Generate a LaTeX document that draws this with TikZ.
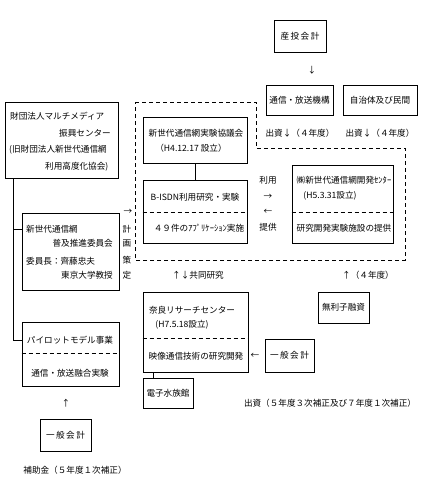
\documentclass[tikz,border=0pt]{standalone}
\usepackage{fontspec}
\setmainfont{Noto Sans CJK JP}
\usetikzlibrary{positioning, calc}

\tikzset{
  box/.style={draw, line width=0.8pt, inner sep=0pt},
  divline/.style={line width=0.8pt, dash pattern=on 4pt off 3pt},
  txt/.style={inner sep=0pt},
  wire/.style={line width=0.8pt}
}

\begin{document}
\begin{tikzpicture}[x=1pt, y=-1pt, font=\fontsize{8.6}{10}\selectfont]
  \useasboundingbox (0,0) rectangle (425,495);
  % Boxes
  \foreach \name/\cx/\cy/\w/\h/\lab in {
    santo/300/36/52/32/{産\,投\,会\,計},
    tsushin/299.5/100/67/30/{通信・放送機構},
    jichitai/380/100/74/30/{自治体及び民間},
    kyogikai/195/140/104/46/{},
    bisdn/195/211.5/104/63/{},
    tao/342.5/204/101/78/{},
    mutf/61.5/140/113/76/{},
    fukyu/70.5/251.5/97/77/{},
    pilot/70.5/354/97/64/{},
    ippanA/65.5/435/51/32/{一\,般\,会\,計},
    nara/195.5/332/105/80/{},
    denshi/168/393/50/30/{電子水族館},
    muri/343.5/307.5/51/31/{無利子融資},
    ippanB/289.5/355.5/49/33/{一\,般\,会\,計}}{
    \node[box, minimum width=\w pt, minimum height=\h pt] (\name) at (\cx,\cy) {\lab};
  }
  % Box texts
  \node[txt, anchor=west] (mm1) at (10,116) {財団法人マルチメディア};
  \node[txt, anchor=east] (mm2) at (111,133) {振興センター};
  \node[txt, anchor=west] (mm3) at (9,150) {(旧財団法人新世代通信網};
  \node[txt, anchor=west] (mm4) at (45,167) {利用高度化協会)};
  \node[txt] (ky1) at (196,133) {新世代通信網実験協議会};
  \node[txt] (ky2) at (191,148) {（H4.12.17 設立）};
  \node[txt] (bi1) at (195,197) {B-ISDN利用研究・実験};
  \node[txt] (bi2) at (199,228) {４９件のｱﾌﾟﾘｹｰｼｮﾝ実施};
  \node[txt] (ta1) at (344,180) {㈱新世代通信網開発ｾﾝﾀｰ};
  \node[txt] (ta2) at (330,196) {(H5.3.31設立)};
  \node[txt] (ta3) at (344,228) {研究開発実験施設の提供};
  \node[txt, anchor=west] (fk1) at (26,229) {新世代通信網};
  \node[txt, anchor=east] (fk2) at (113,243) {普及推進委員会};
  \node[txt, anchor=west] (fk3) at (26,261) {委員長：齊藤忠夫};
  \node[txt, anchor=east] (fk4) at (113,275) {東京大学教授};
  \node[txt] (pl1) at (70,340) {パイロットモデル事業};
  \node[txt] (pl2) at (70,373) {通信・放送融合実験};
  \node[txt] (nr1) at (192,310) {奈良リサーチセンター};
  \node[txt] (nr2) at (182,325) {(H7.5.18設立)};
  \node[txt] (nr3) at (196,356) {映像通信技術の研究開発};
  % Dividers
  \draw[divline] ([yshift=-33pt]bisdn.north west) -- ([yshift=-33pt]bisdn.north east);
  \draw[divline] ([yshift=-48pt]tao.north west) -- ([yshift=-48pt]tao.north east);
  \draw[divline] ([yshift=-32pt]pilot.north west) -- ([yshift=-32pt]pilot.north east);
  \draw[divline] ([yshift=-47pt]nara.north west) -- ([yshift=-47pt]nara.north east);
  % Planning area
  \draw[divline] (135,102) -- (256,102) -- (256,148) -- (405,148)
    -- (405,260) -- (135,260) -- cycle;
  % Lines
  \coordinate (trunk) at (13,0);
  \coordinate (nd) at (153,0);
  \draw[wire] (mutf.south -| trunk) |- (pilot.west |- pl1);
  \draw[wire] (trunk |- fk1) -- (fukyu.west |- fk1);
  \draw[wire] (kyogikai) -- (bisdn);
  \draw[wire] (nara.south -| nd) -- (denshi.north -| nd);
  % Labels
  \node[txt] (a1) at (312,70) {↓};
  \node[txt] (d1) at (300,133) {出資↓（４年度）};
  \node[txt] (d2) at (380,133) {出資↓（４年度）};
  \node[txt] (u1) at (268,180) {利用};
  \node[txt] (u2) at (268,197) {→};
  \node[txt] (u3) at (268,212) {←};
  \node[txt] (u4) at (268,227) {提供};
  \node[txt] (k0) at (128,212) {→};
  \foreach \c/\yy in {計/229, 画/244, 策/260, 定/275}{
    \node[txt] at (127,\yy) {\c};
  }
  \node[txt] (kyo) at (198,275) {↑↓共同研究};
  \node[txt] (y4) at (368,275) {↑（４年度）};
  \node[txt] (la) at (255,356) {←};
  \node[txt] (d3) at (330,403) {出資（５年度３次補正及び７年度１次補正）};
  \node[txt] (ua) at (66,403) {↑};
  \node[txt] (hj) at (75,470) {補助金（５年度１次補正）};
\end{tikzpicture}
\end{document}
